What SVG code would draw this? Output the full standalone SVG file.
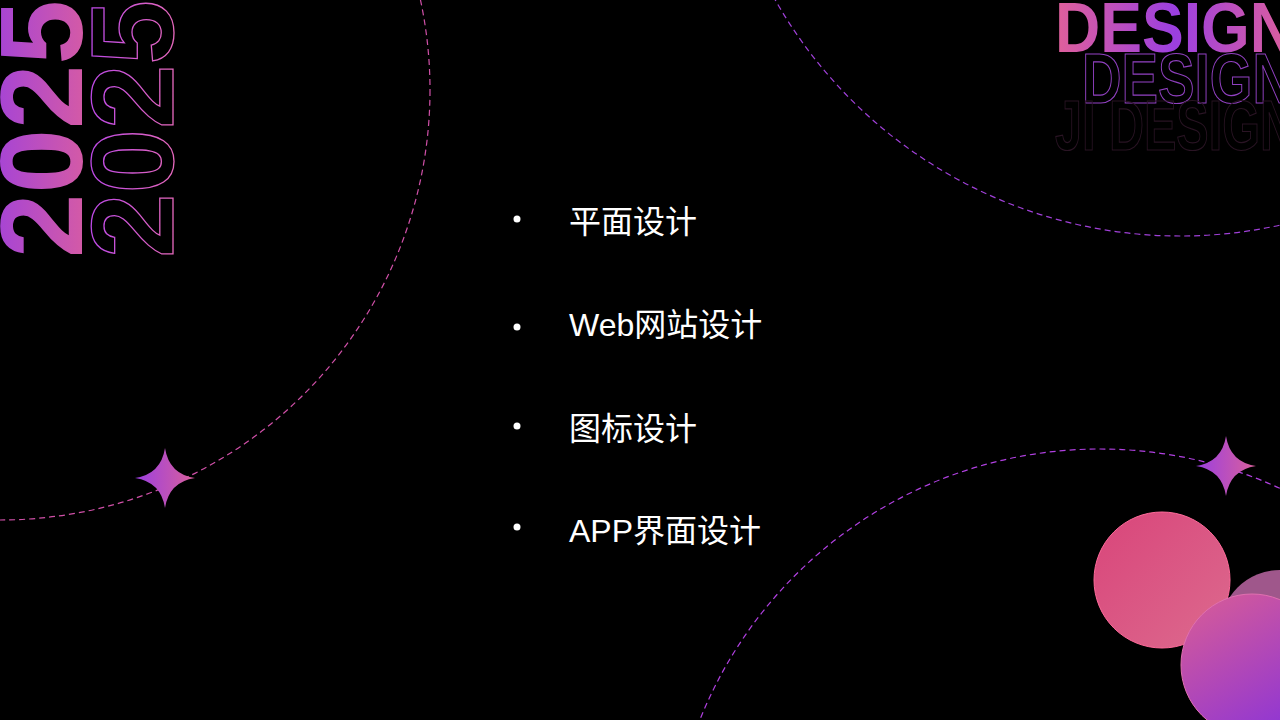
<svg xmlns="http://www.w3.org/2000/svg" width="1280" height="720" viewBox="0 0 1280 720">
<defs>
<linearGradient id="gh" x1="0" y1="0" x2="0" y2="1"><stop offset="0" stop-color="#9b3fe0"/><stop offset="1" stop-color="#e0609a"/></linearGradient>
<linearGradient id="gho" x1="0" y1="0" x2="0" y2="1"><stop offset="0" stop-color="#b040f0"/><stop offset="1" stop-color="#f070b0"/></linearGradient>
<linearGradient id="gd" x1="0" y1="0" x2="1" y2="0" spreadMethod="reflect"><stop offset="0" stop-color="#e0609a"/><stop offset="0.5" stop-color="#9b3fe0"/><stop offset="1" stop-color="#e0609a"/></linearGradient>
<linearGradient id="gp" x1="0" y1="0" x2="1" y2="1"><stop offset="0" stop-color="#d9457a"/><stop offset="1" stop-color="#dc6a8e"/></linearGradient>
<linearGradient id="gv" x1="0.2" y1="0" x2="0.8" y2="1"><stop offset="0" stop-color="#d45a9a"/><stop offset="1" stop-color="#8a33d8"/></linearGradient>
<linearGradient id="gs" x1="0" y1="0" x2="1" y2="0"><stop offset="0" stop-color="#9b3fe0"/><stop offset="1" stop-color="#d9609c"/></linearGradient>
<path id="star" d="M0,-30 Q4,-4 30,0 Q4,4 0,30 Q-4,4 -30,0 Q-4,-4 0,-30Z"/>
</defs>
<style>
.dash{fill:none;stroke-width:1.2;stroke-dasharray:6 4}
.t{font-family:"Liberation Sans","Noto Sans CJK SC",sans-serif;font-size:32px;fill:#fff}
.num{font-family:"Liberation Sans",sans-serif;font-weight:bold;font-size:117px}
.ds{font-family:"Liberation Sans",sans-serif;font-weight:bold;font-size:70px}
</style>
<rect width="1280" height="720" fill="#000"/>
<g id="decor">
<circle cx="0" cy="90" r="430" class="dash" stroke="#d050a8"/>
<circle cx="1180" cy="-229" r="465" class="dash" stroke="#a040d8"/>
<circle cx="1100" cy="880" r="431" class="dash" stroke="#b040e0"/>
<use href="#star" transform="translate(165,478)" fill="url(#gs)"/>
<use href="#star" transform="translate(1226,466)" fill="url(#gs)"/>
<circle cx="1280" cy="630" r="60" fill="#b0609a" opacity="0.9"/>
<circle cx="1162" cy="580" r="68" fill="url(#gp)" stroke="#ff6a9a" stroke-width="1"/>
<circle cx="1252" cy="665" r="71" fill="url(#gv)" stroke="#e070b0" stroke-width="1"/>
<text class="num" transform="translate(82,258) rotate(-90)" fill="url(#gh)" textLength="258" lengthAdjust="spacingAndGlyphs">2025</text>
<text class="num" transform="translate(173,258) rotate(-90)" fill="none" stroke="url(#gho)" stroke-width="1.3" textLength="258" lengthAdjust="spacingAndGlyphs">2025</text>
<text class="ds" x="1055" y="52" fill="url(#gd)" textLength="240" lengthAdjust="spacingAndGlyphs">DESIGN</text>
<text class="ds" x="1082" y="103" fill="none" stroke="#9040c0" stroke-width="1.2" font-size="60" textLength="210" lengthAdjust="spacingAndGlyphs">DESIGN</text>
<text class="ds" x="1055" y="150" fill="none" stroke="#2a1424" stroke-width="1.2" font-size="60" textLength="240" lengthAdjust="spacingAndGlyphs">JI DESIGN</text>
</g>
<g id="item1"><circle cx="517" cy="219" r="3.5" fill="#fff"/><text class="t" x="569" y="233">平面设计</text></g>
<g id="item2"><circle cx="517" cy="327" r="3.5" fill="#fff"/><text class="t" x="569" y="336">Web网站设计</text></g>
<g id="item3"><circle cx="517" cy="426" r="3.5" fill="#fff"/><text class="t" x="569" y="440">图标设计</text></g>
<g id="item4"><circle cx="517" cy="527" r="3.5" fill="#fff"/><text class="t" x="569" y="542">APP界面设计</text></g>
<g id="connectors"/>
</svg>
